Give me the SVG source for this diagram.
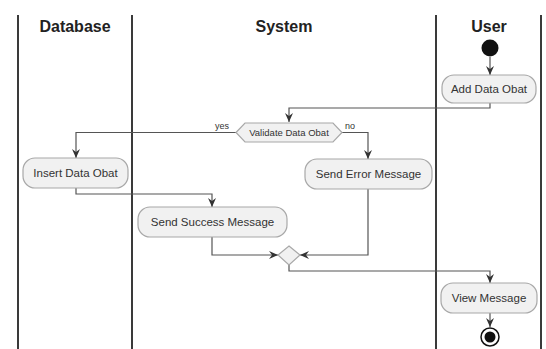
<svg xmlns="http://www.w3.org/2000/svg" width="546" height="349" viewBox="0 0 546 349">
<defs>
<marker id="arr" markerWidth="10" markerHeight="10" refX="9" refY="5" orient="auto" markerUnits="userSpaceOnUse">
<path d="M0,1 L9,5 L0,9 L3,5 Z" fill="#333"/>
</marker>
<style>
.lane{stroke:#3a3a3a;stroke-width:2;fill:none}
.title{font-family:"Liberation Sans",Arial,sans-serif;font-size:16px;font-weight:bold;fill:#222;text-anchor:middle}
.box{fill:#F1F1F1;stroke:#A8A8A8;stroke-width:1.2}
.txt{font-family:"Liberation Sans",Arial,sans-serif;font-size:11.5px;fill:#333;text-anchor:middle}
.small{font-family:"Liberation Sans",Arial,sans-serif;font-size:9.5px;fill:#333;text-anchor:middle}
.lbl{font-family:"Liberation Sans",Arial,sans-serif;font-size:9px;fill:#333}
.conn{fill:none;stroke:#555;stroke-width:1.2;marker-end:url(#arr)}
</style>
</defs>
<rect width="546" height="349" fill="#fff"/>
<g id="lanes">
<line class="lane" x1="18" y1="15" x2="18" y2="349"/>
<line class="lane" x1="132" y1="15" x2="132" y2="349"/>
<line class="lane" x1="436" y1="15" x2="436" y2="349"/>
<line class="lane" x1="541" y1="15" x2="541" y2="349"/>
<text class="title" x="75" y="32">Database</text>
<text class="title" x="284" y="32">System</text>
<text class="title" x="489" y="32">User</text>
</g>
<g id="connectors">
<path class="conn" d="M490,57 L490,75"/>
<path class="conn" d="M490,103 L490,108 L289,108 L289,122"/>
<path class="conn" d="M236,132.5 L76,132.5 L76,158"/>
<path class="conn" d="M342,132.5 L368,132.5 L368,159"/>
<path class="conn" d="M76,188 L76,194 L212,194 L212,207"/>
<path class="conn" d="M212,237 L212,255 L278,255"/>
<path class="conn" d="M368,189 L368,255 L300,255"/>
<path class="conn" d="M289,265 L289,271 L490,271 L490,283"/>
<path class="conn" d="M490,313 L490,327"/>
<text class="lbl" x="215" y="129">yes</text>
<text class="lbl" x="345" y="129">no</text>
</g>
<g id="start"><circle cx="490" cy="48" r="8.5" fill="#111"/></g>
<g id="add-data-obat">
<rect class="box" x="442" y="75" width="94" height="28" rx="12"/>
<text class="txt" x="489" y="93">Add Data Obat</text>
</g>
<g id="validate">
<polygon class="box" points="236,132.5 245,123 333,123 342,132.5 333,142 245,142"/>
<text class="small" x="289" y="136">Validate Data Obat</text>
</g>
<g id="insert-data-obat">
<rect class="box" x="23" y="158" width="105" height="30" rx="12"/>
<text class="txt" x="75.5" y="177">Insert Data Obat</text>
</g>
<g id="send-error">
<rect class="box" x="305" y="159" width="127" height="30" rx="12"/>
<text class="txt" x="368.5" y="178">Send Error Message</text>
</g>
<g id="send-success">
<rect class="box" x="138" y="207" width="149" height="30" rx="12"/>
<text class="txt" x="212.5" y="226">Send Success Message</text>
</g>
<g id="merge">
<polygon class="box" points="289,246 300,255 289,265 278,255"/>
</g>
<g id="view-message">
<rect class="box" x="441" y="283" width="96" height="30" rx="12"/>
<text class="txt" x="489" y="302">View Message</text>
</g>
<g id="end">
<circle cx="490" cy="337" r="9" fill="#fff" stroke="#111" stroke-width="1.5"/>
<circle cx="490" cy="337" r="5.5" fill="#111"/>
</g>
</svg>
